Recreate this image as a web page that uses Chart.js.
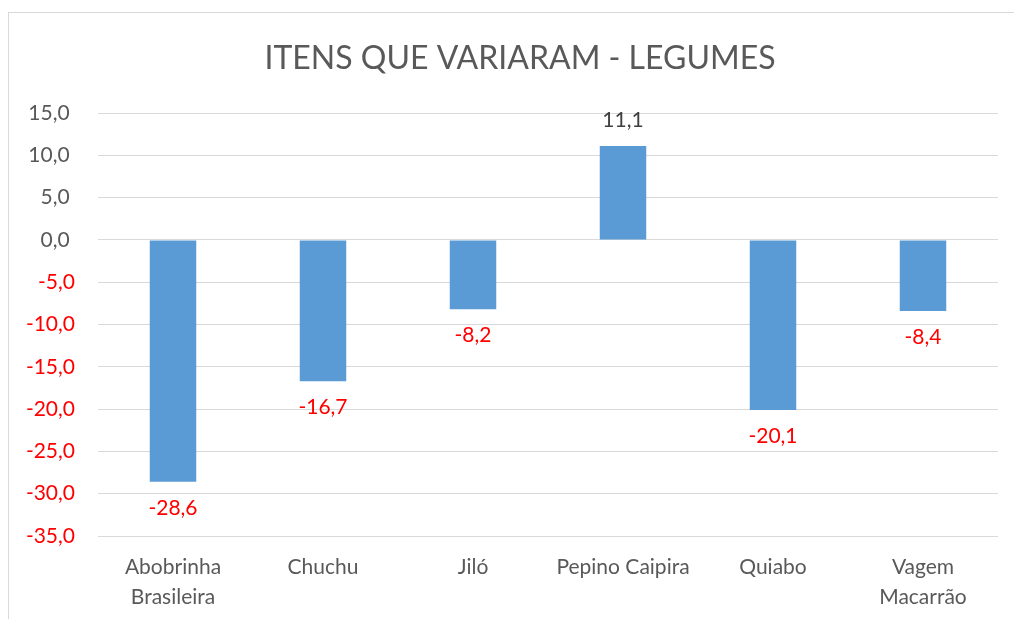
<!DOCTYPE html>
<html>
<head>
<meta charset="utf-8">
<script src="https://cdn.jsdelivr.net/npm/chart.js@4/dist/chart.umd.min.js"></script>
<style>
  html, body { margin: 0; padding: 0; background: #fff; overflow: hidden; }
  #box { position: absolute; left: 8px; top: 12px; width: 1022px; height: 620px;
         border: 1px solid #d9d9d9; box-sizing: border-box; }
  #chart { position: absolute; left: 0; top: 0; }
</style>
</head>
<body>
<div id="box"><canvas id="chart" width="1020" height="606"></canvas></div>
<script>
const titulo = 'ITENS QUE VARIARAM - LEGUMES';
const categories = [['Abobrinha', 'Brasileira'], 'Chuchu', 'Jiló', 'Pepino Caipira', 'Quiabo', ['Vagem', 'Macarrão']];
const variacao = [-28.6, -16.7, -8.2, 11.1, -20.1, -8.4];
const yMin = -35, yMax = 15, yStep = 5;

const fmt = v => v.toFixed(1).replace('.', ',');
const FONT = 'Lato';

// título centrado na caixa toda (o título nativo fica deslocado pelo padding)
const tituloPlugin = {
    id: 'tituloPlugin',
    afterDraw(chart) {
        const ctx = chart.ctx;
        ctx.save();
        ctx.font = '32px ' + FONT;
        ctx.fillStyle = '#595959';
        ctx.textAlign = 'center';
        ctx.textBaseline = 'middle';
        ctx.fillText(titulo, 511, 45.5);
        ctx.restore();
    }
};

// rótulos de dados (sem plugin externo)
const rotulos = {
    id: 'rotulos',
    afterDatasetsDraw(chart) {
        const ctx = chart.ctx;
        const meta = chart.getDatasetMeta(0);
        ctx.save();
        ctx.font = '21px ' + FONT;
        ctx.textAlign = 'center';
        ctx.textBaseline = 'middle';
        meta.data.forEach((bar, i) => {
            const v = variacao[i];
            ctx.fillStyle = v < 0 ? '#ff0000' : '#404040';
            ctx.fillText(fmt(v), bar.x, v < 0 ? bar.y + 26 : bar.y - 26);
        });
        ctx.restore();
    }
};

new Chart(document.getElementById('chart'), {
    type: 'bar',
    data: {
        labels: categories,
        datasets: [{
            data: variacao,
            backgroundColor: '#5b9bd5',
            borderWidth: 0,
            categoryPercentage: 1,
            barPercentage: 0.31
        }]
    },
    options: {
        responsive: false,
        animation: false,
        layout: { padding: { top: 100, right: 31, bottom: 0, left: 0 } },
        plugins: {
            legend: { display: false },
            tooltip: { enabled: false },
            title: { display: false }
        },
        scales: {
            x: {
                grid: { display: false, drawTicks: false },
                border: { display: false },
                ticks: {
                    color: '#595959',
                    font: { family: FONT, size: 21, lineHeight: 1.43 },
                    padding: 16,
                    maxRotation: 0
                },
                afterFit: s => { s.height = 83; }
            },
            y: {
                min: yMin,
                max: yMax,
                grid: { color: '#d9d9d9', lineWidth: 1, drawTicks: false },
                border: { display: false },
                ticks: {
                    stepSize: yStep,
                    padding: 23,
                    font: { family: FONT, size: 21 },
                    color: c => c.tick.value < 0 ? '#ff0000' : '#595959',
                    // formato do Excel: positivos com espaço à direita
                    callback: v => v < 0 ? fmt(v) : fmt(v) + ' '
                },
                afterFit: s => { s.width = 89; }
            }
        }
    },
    plugins: [rotulos, tituloPlugin]
});
</script>
</body>
</html>
